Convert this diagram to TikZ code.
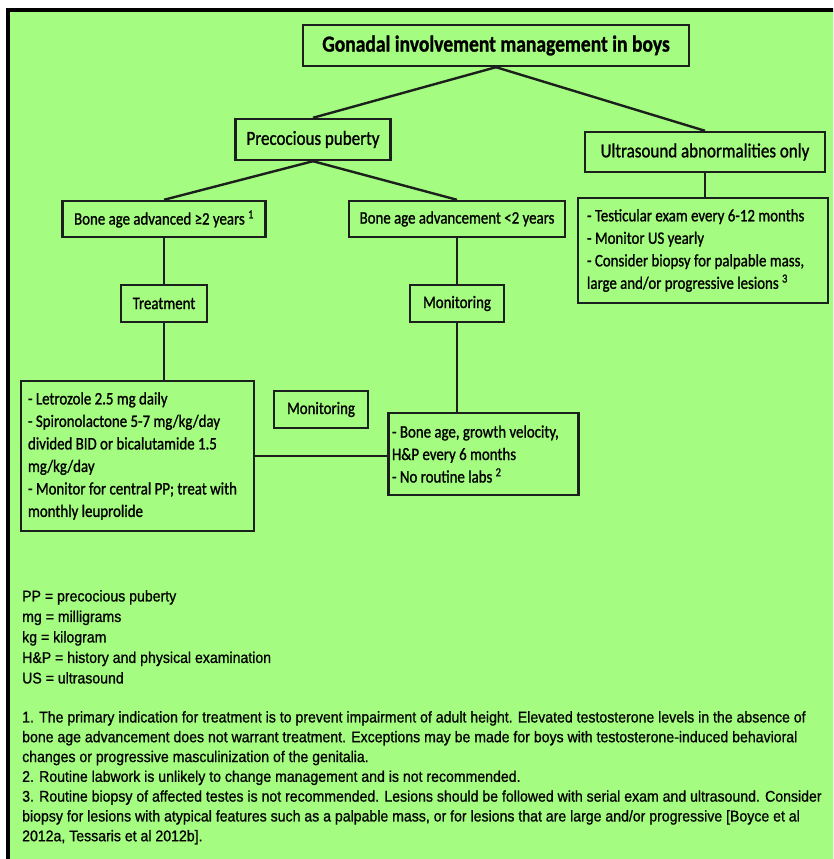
\documentclass[tikz,border=0pt]{standalone}
\usepackage{fontspec}
\setmainfont{Carlito}[FakeStretch=0.85, FakeBold=1.1]
\newfontfamily\notefont{Liberation Sans}[FakeStretch=0.91, FakeBold=0.8]
\definecolor{chartgreen}{RGB}{164,253,128}
\definecolor{inkline}{RGB}{28,32,28}

\begin{document}
\begin{tikzpicture}[x=1pt,y=-1pt,
	box/.style={draw=inkline, line width=2.4pt, fill=chartgreen, inner sep=0pt, align=center, font=\fontsize{17.5}{22.5}\selectfont},
	bigbox/.style={box, font=\fontsize{20}{23}\selectfont},
	listbox/.style={box, align=flush left, inner xsep=4pt, font=\fontsize{17.5}{22.5}\selectfont},
	notes/.style={anchor=north west, inner sep=0pt, align=left},
	link/.style={draw=inkline, line width=2.4pt}]
	\useasboundingbox (0,0) rectangle (833,859);
	\fill[white] (0,0) rectangle (833,859);
	\begin{scope}
		\clip (0,0) rectangle (833,859);
		\draw[line width=4pt, fill=chartgreen] (8,10) rectangle (850,880);
	\end{scope}

	\node[box, minimum width=386pt, minimum height=41pt, font=\fontsize{23}{26}\selectfont\bfseries] (title) at (496,45.5) {Gonadal involvement management in boys};
	\node[bigbox, minimum width=155pt, minimum height=41pt] (pp) at (313,139.5) {Precocious puberty};
	\node[bigbox, minimum width=240pt, minimum height=40pt] (us) at (705,152) {Ultrasound abnormalities only};
	\node[box, minimum width=203pt, minimum height=36pt] (bafast) at (164,219) {Bone age advanced ≥2 years \textsuperscript{1}};
	\node[box, minimum width=216pt, minimum height=36pt] (baslow) at (457,219) {Bone age advancement <2 years};
	\node[listbox, text width=232pt, minimum height=105pt, inner xsep=9pt] (uslist) at (703,250.5) {- Testicular exam every 6-12 months\\- Monitor US yearly\\- Consider biopsy for palpable mass,\\large and/or progressive lesions \textsuperscript{3}};
	\node[box, minimum width=86pt, minimum height=37pt] (treat) at (164,303.5) {Treatment};
	\node[box, minimum width=94pt, minimum height=37pt] (monA) at (457,303.5) {Monitoring};
	\node[listbox, text width=219pt, minimum height=150pt, inner xsep=7pt] (letro) at (137.5,456) {- Letrozole 2.5 mg daily\\- Spironolactone 5-7 mg/kg/day\\divided BID or bicalutamide 1.5\\mg/kg/day\\- Monitor for central PP; treat with\\monthly leuprolide};
	\node[box, minimum width=94pt, minimum height=37pt] (monB) at (321,409.5) {Monitoring};
	\node[listbox, text width=183pt, minimum height=82pt, inner xsep=3.5pt] (bagv) at (483.5,454) {- Bone age, growth velocity,\\H\&P every 6 months\\- No routine labs \textsuperscript{2}};

	\node[notes, font=\notefont\fontsize{15.5}{20.5}\selectfont] (abbr) at (22,590) {PP = precocious puberty\\mg = milligrams\\kg = kilogram\\H\&P = history and physical examination\\US = ultrasound};
	\node[notes, font=\notefont\fontsize{15.5}{19.8}\selectfont] (foot) at (22,711) {1. The primary indication for treatment is to prevent impairment of adult height. Elevated testosterone levels in the absence of\\bone age advancement does not warrant treatment. Exceptions may be made for boys with testosterone-induced behavioral\\changes or progressive masculinization of the genitalia.\\2. Routine labwork is unlikely to change management and is not recommended.\\3. Routine biopsy of affected testes is not recommended. Lesions should be followed with serial exam and ultrasound. Consider\\biopsy for lesions with atypical features such as a palpable mass, or for lesions that are large and/or progressive [Boyce et al\\2012a, Tessaris et al 2012b].};

	\draw[link] (title.south) -- (pp.north);
	\draw[link] (title.south) -- (us.north);
	\draw[link] (pp.south) -- (bafast.north);
	\draw[link] (pp.south) -- (baslow.north);
	\draw[link] (us.south) -- (us.south |- uslist.north);
	\draw[link] (bafast.south) -- (treat.north);
	\draw[link] (treat.south) -- (treat.south |- letro.north);
	\draw[link] (baslow.south) -- (monA.north);
	\draw[link] (monA.south) -- (monA.south |- bagv.north);
	\draw[link] (letro.east) -- (letro.east -| bagv.west);
\end{tikzpicture}
\end{document}
